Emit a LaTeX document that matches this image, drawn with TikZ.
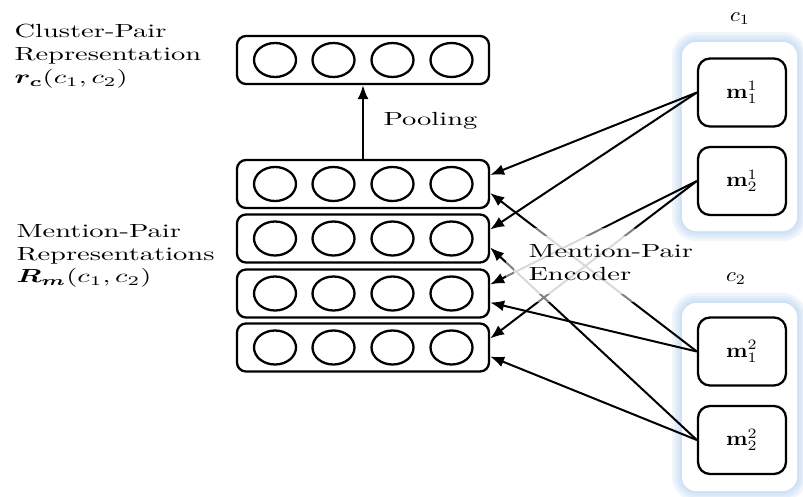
\documentclass[tikz,border=0pt]{standalone}
\usepackage{bm}
\usetikzlibrary{arrows.meta}
\definecolor{glowc}{RGB}{160,195,235}
\begin{document}
\begin{tikzpicture}[x=1pt,y=-1pt,
  lbl/.style={font=\normalsize, xscale=2.85, yscale=1.9, align=left, inner sep=0pt},
  vecbox/.style={draw, line width=2.3pt, rounded corners=9pt, minimum width=252pt, minimum height=48pt, inner sep=0pt},
  unit/.style={line width=2.3pt},
  mbox/.style={draw, line width=2.3pt, rounded corners=12pt, minimum width=88pt, minimum height=68pt, inner sep=0pt, fill=white},
  mtxt/.style={xscale=2.25, yscale=2.05, inner sep=0pt},
  arr/.style={line width=2pt, -{Latex[length=14pt,width=11pt]}},
  grp/.style={rounded corners=14pt},
]
\useasboundingbox (0,0) rectangle (803,496);

% cluster groups with soft blue glow
\foreach \ya/\yb in {42/231, 303/491} {
  \foreach \w in {20,14,9,4}
    \draw[grp, glowc, opacity=0.16, line width=\w pt] (682,\ya) rectangle (797,\yb);
  \fill[grp, white] (682,\ya) rectangle (797,\yb);
}

% vector boxes
\node[vecbox] (vt) at (363,60) {};
\node[vecbox] (v1) at (363,184) {};
\node[vecbox] (v2) at (363,238.5) {};
\node[vecbox] (v3) at (363,293.5) {};
\node[vecbox] (v4) at (363,347.5) {};
\foreach \cy in {60,184,238.5,293.5,347.5}
  \foreach \cx in {275,333.5,392.5,451.5}
    \draw[unit] (\cx,\cy) ellipse [x radius=21, y radius=17];

% mentions
\node[mbox] (a1) at (742,92.5) {};
\node[mbox] (a2) at (742,181) {};
\node[mbox] (b1) at (742,351.5) {};
\node[mbox] (b2) at (742,440) {};
\node[mtxt] (ta1) at (a1) {$\mathbf{m}^1_1$};
\node[mtxt] (ta2) at (a2) {$\mathbf{m}^1_2$};
\node[mtxt] (tb1) at (b1) {$\mathbf{m}^2_1$};
\node[mtxt] (tb2) at (b2) {$\mathbf{m}^2_2$};

% pooling
\draw[arr] (v1) -- (vt);

% mention-pair encoder arrows
\draw[arr] (a1.west) -- ([yshift=9pt]v1.east);
\draw[arr] (a1.west) -- ([yshift=9pt]v2.east);
\draw[arr] (a2.west) -- ([yshift=9pt]v3.east);
\draw[arr] (a2.west) -- ([yshift=9pt]v4.east);
\draw[arr] (b1.west) -- ([yshift=-9pt]v1.east);
\draw[arr] (b1.west) -- ([yshift=-9pt]v3.east);
\draw[arr] (b2.west) -- ([yshift=-9pt]v2.east);
\draw[arr] (b2.west) -- ([yshift=-9pt]v4.east);

% soft white veil behind the encoder label
\fill[white, opacity=0.5, rounded corners=14pt] (506,228) rectangle (645,302);
\fill[white, opacity=0.7, rounded corners=10pt] (514,236) rectangle (636,294);

% labels
\node[lbl, anchor=north west] (lc) at (14,24) {Cluster-Pair\\Representation\\$\bm{r}_{\bm{c}}(c_1,c_2)$};
\node[lbl, anchor=north west] (lm) at (16,224) {Mention-Pair\\Representations\\$\bm{R}_{\bm{m}}(c_1,c_2)$};
\node[lbl, anchor=base west] (pool) at (383,125) {Pooling};
\node[lbl, anchor=north west] (enc) at (528,244) {Mention-Pair\\Encoder};
\node[mtxt] (c1) at (740,19) {$c_1$};
\node[mtxt] (c2) at (736,279) {$c_2$};
\end{tikzpicture}
\end{document}
